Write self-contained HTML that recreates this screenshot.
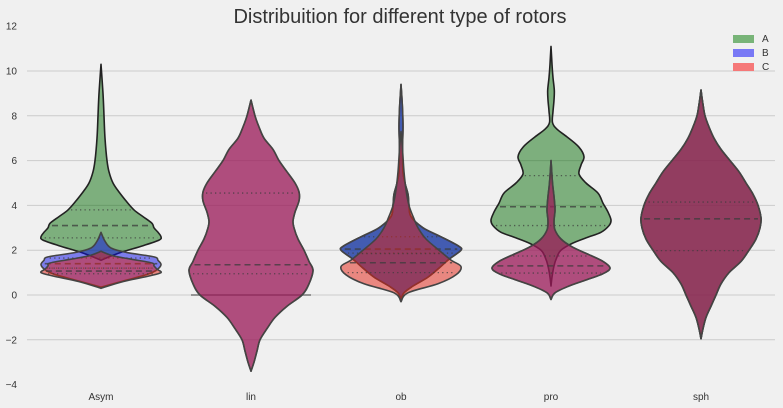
<!DOCTYPE html>
<html><head><meta charset="utf-8">
<style>
html,body{margin:0;padding:0;background:#f0f0f0;}
svg{display:block;font-family:"Liberation Sans",Arial,sans-serif;}
</style></head>
<body>
<svg id="chart" width="783" height="408" viewBox="0 0 783 408">
<rect width="783" height="408" fill="#f0f0f0"/>
<text x="400" y="23" text-anchor="middle" font-size="20" fill="#333">Distribuition for different type of rotors</text>
<g id="grid"></g><g id="violins"></g><g id="axes"></g>
<g id="legend">
<rect x="733" y="35" width="21" height="8" fill="#78b478"/>
<text x="762" y="42" font-size="10" fill="#333">A</text>
<rect x="733" y="49" width="21" height="8" fill="#7878f5"/>
<text x="762" y="56" font-size="10" fill="#333">B</text>
<rect x="733" y="63" width="21" height="8" fill="#f57878"/>
<text x="762" y="70" font-size="10" fill="#333">C</text>
</g>
</svg>
<script>
const categories = ["Asym","lin","ob","pro","sph"];
const yTicks = [12,10,8,6,4,2,0,-2,-4];
const gridTicks = [10,8,6,4,2,0,-2];

// Asym
const asymA_y = [1.55,1.7,1.92,2.2,2.45,2.6,2.8,3.0,3.2,3.5,3.8,4.2,4.6,5,5.5,6,7,8,9,10.3];
const asymA_d = [0,8,21,42,58,60,57,53,51,42,33,25,18,12,8,6,4,3,2,0];
const asymB_y = [0.35,0.6,0.9,1.1,1.35,1.55,1.7,1.9,2.1,2.4,2.8];
const asymB_d = [0,20,45,55,60,57,53,25,10,4,0];
const asymC_y = [0.3,0.6,0.85,1.0,1.15,1.3,1.43,1.6,1.75,1.95];
const asymC_d = [0,22,48,60,56,53,51,30,12,0];
// lin
const lin_y = [-3.4,-3,-2.5,-2,-1.5,-1,-0.5,0,0.5,1.1,1.5,2,2.5,3,3.3,3.7,4.2,4.6,5,5.5,6,6.5,7,7.5,8,8.7];
const lin_d = [0,3,6,9,16,24,36,51,58,62,58,53,47,43,42,44,48,48,44,36,28,22,13,8,4,0];
// ob
const obB_y = [-0.2,0.1,0.4,0.8,1.2,1.6,2.0,2.2,2.6,3.0,3.5,4.0,4.5,5.0,5.5,6.5,7.5,8.3,9.4];
const obB_d = [0,3,12,27,38,48,60,57,40,22,10,8,7,4,2,1.5,2,1.5,0];
const obC_y = [-0.3,0.1,0.5,0.9,1.27,1.56,2.0,2.5,3.0,3.4,4.0,4.7,5.5,6.5,7.3];
const obC_d = [0,7,37,55,60,50,38,25,17,13,8,5,3,1.5,0];
// pro
const proA_y = [0.4,0.8,1.3,1.7,2.0,2.3,2.55,2.8,3.1,3.35,3.7,4.1,4.55,5.0,5.4,5.8,6.17,6.6,7.06,7.4,7.7,8.2,8.7,9.15,9.7,10.3,11.1];
const proA_d = [0,1,3,6,10,21,35,50,58,60,57,52,47,35,28,30,33,28,16,6,1.5,2,3,3.3,2,1,0];
const proBC_y = [-0.2,0.1,0.4,0.7,0.95,1.2,1.5,1.8,2.15,2.5,2.9,3.3,3.8,4.4,5.0,6.0];
const proBC_d = [0,4,18,37,52,59,52,38,21,10,4,3,4,3,1.5,0];
// sph
const sph_y = [-1.95,-1.5,-1.0,-0.5,0,0.5,1,1.5,2,2.5,3,3.43,4,4.5,5,5.5,6,6.5,7,7.5,8,8.5,9.15];
const sph_d = [0,2,5,10,15,20,28,40,48,55,59,60,57,52,45,38,29,20,13,8,4,2,0];

// quartiles [q1, median, q3]
const asymA_q = [2.55,3.1,3.8];
const asymB_q = [1.2,1.4,1.65];
const asymC_q = [0.95,1.07,1.2];
const lin_q = [0.95,1.35,4.55];
const obB_q = [1.87,2.05,2.6];
const obC_q = [1.0,1.44,1.85];
const proA_q = [3.1,3.94,5.33];
const proBC_q = [0.98,1.3,1.74];
const sph_q = [1.98,3.4,4.15];

const NS="http://www.w3.org/2000/svg";
const X0=27,X1=775;
function yS(v){return 295-22.4*v;}
function xS(i){return 101+150*i;}
const COL={A:"rgba(10,110,10,0.5)",B:"rgba(10,10,230,0.5)",C:"rgba(225,30,15,0.5)"};

const grid=document.getElementById('grid');
gridTicks.forEach(t=>{
  const l=document.createElementNS(NS,'line');
  l.setAttribute('x1',X0);l.setAttribute('x2',X1);
  l.setAttribute('y1',yS(t));l.setAttribute('y2',yS(t));
  l.setAttribute('stroke','#cbcbcb');l.setAttribute('stroke-width','1');
  
  
  grid.appendChild(l);
});
const axes=document.getElementById('axes');
yTicks.forEach(t=>{
  const tx=document.createElementNS(NS,'text');
  tx.setAttribute('x',17);tx.setAttribute('y',yS(t)+3.5);
  tx.setAttribute('text-anchor','end');tx.setAttribute('font-size','10');tx.setAttribute('fill','#333');
  tx.textContent=t<0?'\u2212'+(-t):String(t);
  
  
  axes.appendChild(tx);
});
categories.forEach((c,i)=>{
  const tx=document.createElementNS(NS,'text');
  tx.setAttribute('x',xS(i));tx.setAttribute('y',400);
  tx.setAttribute('text-anchor','middle');tx.setAttribute('font-size','10');tx.setAttribute('fill','#333');
  tx.textContent=c;
  
  
  axes.appendChild(tx);
});

function spline(pts){
  let d='M'+pts[0][0].toFixed(1)+','+pts[0][1].toFixed(1);
  for(let i=0;i<pts.length-1;i++){
    const p0=pts[Math.max(i-1,0)],p1=pts[i],p2=pts[i+1],p3=pts[Math.min(i+2,pts.length-1)];
    const c1=[p1[0]+(p2[0]-p0[0])/6,p1[1]+(p2[1]-p0[1])/6];
    const c2=[p2[0]-(p3[0]-p1[0])/6,p2[1]-(p3[1]-p1[1])/6];
    d+='C'+c1[0].toFixed(1)+','+c1[1].toFixed(1)+' '+c2[0].toFixed(1)+','+c2[1].toFixed(1)+' '+p2[0].toFixed(1)+','+p2[1].toFixed(1);
  }
  return d;
}
function interp(ys,ds,v){
  for(let i=0;i<ys.length-1;i++){
    if(v>=ys[i]&&v<=ys[i+1]){const f=(v-ys[i])/(ys[i+1]-ys[i]);return ds[i]+f*(ds[i+1]-ds[i]);}
  }
  return 0;
}
const vg=document.getElementById('violins');
function violin(ci,ys,ds,hue,qs,stroke,name){
  const cx=xS(ci);
  const right=ys.map((v,k)=>[cx+ds[k],yS(v)]);
  const left=ys.map((v,k)=>[cx-ds[k],yS(v)]).reverse();
  const d=spline(right)+' L'+spline(left).slice(1)+'Z';
  const p=document.createElementNS(NS,'path');
  p.setAttribute('d',d);p.setAttribute('fill',COL[hue]);
  p.setAttribute('stroke',stroke);p.setAttribute('stroke-width','1.6');p.setAttribute('stroke-linejoin','round');
  
  
  vg.appendChild(p);
  if(qs){
    qs.forEach((q,k)=>{
      const w=interp(ys,ds,q)-3;
      if(w<=0)return;
      const l=document.createElementNS(NS,'line');
      l.setAttribute('x1',cx-w);l.setAttribute('x2',cx+w);
      l.setAttribute('y1',yS(q));l.setAttribute('y2',yS(q));
      l.setAttribute('stroke','rgba(60,60,60,0.75)');
      l.setAttribute('stroke-width',k===1?'1.6':'1.3');
      l.setAttribute('stroke-dasharray',k===1?'6,4':'1.3,3.2');
      
      
      vg.appendChild(l);
    });
  }
}
// Asym
violin(0,asymA_y,asymA_d,'A',asymA_q,'#222','violin-asym-a');
violin(0,asymB_y,asymB_d,'B',asymB_q,'#444','violin-asym-b');
violin(0,asymC_y,asymC_d,'C',asymC_q,'#444','violin-asym-c');
// lin
(function(){
  const l=document.createElementNS(NS,'line');
  l.setAttribute('x1',xS(1)-60);l.setAttribute('x2',xS(1)+60);
  l.setAttribute('y1',yS(0));l.setAttribute('y2',yS(0));
  l.setAttribute('stroke','#777');l.setAttribute('stroke-width','1.6');
  
  
  vg.appendChild(l);
})();
violin(1,lin_y,lin_d,'B',null,'#444','violin-lin-b');
violin(1,lin_y,lin_d,'C',lin_q,'#444','violin-lin-c');
// ob
violin(2,obB_y,obB_d,'A',null,'#444','violin-ob-a');
violin(2,obB_y,obB_d,'B',obB_q,'#444','violin-ob-b');
violin(2,obC_y,obC_d,'C',obC_q,'#444','violin-ob-c');
// pro
violin(3,proA_y,proA_d,'A',proA_q,'#222','violin-pro-a');
violin(3,proBC_y,proBC_d,'B',null,'#444','violin-pro-b');
violin(3,proBC_y,proBC_d,'C',proBC_q,'#444','violin-pro-c');
// sph
violin(4,sph_y,sph_d,'A',null,'#444','violin-sph-a');
violin(4,sph_y,sph_d,'B',null,'#444','violin-sph-b');
violin(4,sph_y,sph_d,'C',sph_q,'#444','violin-sph-c');
</script>
</body></html>
